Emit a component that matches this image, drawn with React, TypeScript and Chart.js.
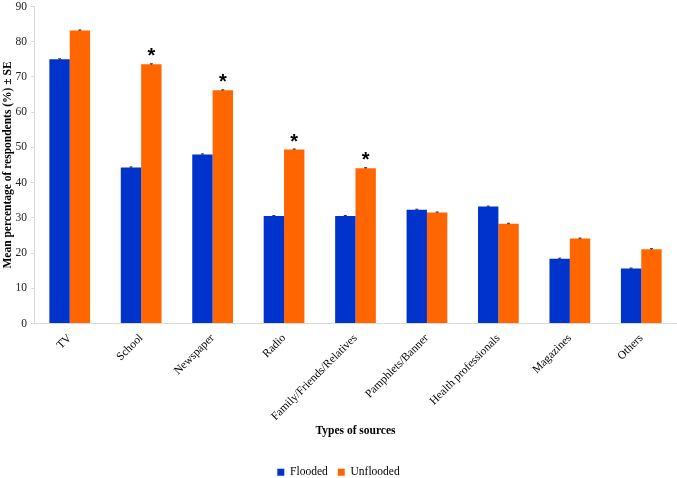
import React, { useEffect, useRef } from "react";
import { Chart, registerables } from "chart.js";

Chart.register(...registerables);

const categories = [
  "TV",
  "School",
  "Newspaper",
  "Radio",
  "Family/Friends/Relatives",
  "Pamphlets/Banner",
  "Health professionals",
  "Magazines",
  "Others",
];
const flooded = [75.0, 44.3, 48.0, 30.5, 30.5, 32.3, 33.2, 18.4, 15.6];
const unflooded = [83.2, 73.6, 66.2, 49.4, 44.1, 31.5, 28.3, 24.1, 21.1];
const floodedSE = [0.15, 0.15, 0.15, 0.15, 0.15, 0.15, 0.15, 0.15, 0.15];
const unfloodedSE = [0.15, 0.15, 0.15, 0.15, 0.15, 0.15, 0.15, 0.15, 0.15];
const significant = [false, true, true, true, true, false, false, false, false];
const yTicks = [0, 10, 20, 30, 40, 50, 60, 70, 80, 90];

const SERIF = "'Liberation Serif', 'Times New Roman', serif";

const errorAndStarPlugin = {
  id: "errorAndStar",
  afterDatasetsDraw(chart: any) {
    const ctx = chart.ctx;
    const y = chart.scales.y;
    const seSets = [floodedSE, unfloodedSE];
    ctx.save();
    chart.data.datasets.forEach((ds: any, di: number) => {
      const meta = chart.getDatasetMeta(di);
      meta.data.forEach((bar: any, i: number) => {
        const v = ds.data[i];
        const se = seSets[di][i];
        const yTop = y.getPixelForValue(v + se);
        const yBot = y.getPixelForValue(v - se);
        ctx.strokeStyle = "#333";
        ctx.lineWidth = 1;
        ctx.beginPath();
        ctx.moveTo(bar.x, yTop);
        ctx.lineTo(bar.x, yBot);
        ctx.moveTo(bar.x - 1.5, yTop);
        ctx.lineTo(bar.x + 1.5, yTop);
        ctx.stroke();
        if (di === 1 && significant[i]) {
          ctx.fillStyle = "#000";
          ctx.font = "bold 20px 'Liberation Sans', Arial, sans-serif";
          ctx.textAlign = "center";
          ctx.textBaseline = "alphabetic";
          ctx.fillText("*", bar.x, y.getPixelForValue(v) - 2);
        }
      });
    });
    ctx.restore();
  },
};

export default function App() {
  const ref = useRef<HTMLCanvasElement | null>(null);
  useEffect(() => {
    if (!ref.current) return;
    const chart = new Chart(ref.current, {
      type: "bar",
      data: {
        labels: categories,
        datasets: [
          {
            label: "Flooded",
            data: flooded,
            backgroundColor: "#0033cc",
            categoryPercentage: 0.57,
            barPercentage: 1.0,
          },
          {
            label: "Unflooded",
            data: unflooded,
            backgroundColor: "#ff6600",
            categoryPercentage: 0.57,
            barPercentage: 1.0,
          },
        ],
      },
      options: {
        animation: false,
        responsive: true,
        maintainAspectRatio: false,
        layout: { padding: { left: 0, right: 0, top: 0, bottom: 0 } },
        plugins: {
          tooltip: { enabled: false },
          legend: {
            position: "bottom",
            labels: {
              boxWidth: 7,
              boxHeight: 7,
              padding: 10,
              color: "#000",
              font: { family: SERIF, size: 11.5 },
            },
          },
        },
        scales: {
          x: {
            grid: { display: false },
            border: { display: true, color: "#d9d9d9" },
            afterFit: (scale: any) => {
              scale.height = 133;
            },
            ticks: {
              maxRotation: 45,
              minRotation: 45,
              color: "#000",
              padding: 0,
              font: { family: SERIF, size: 11.5 },
            },
            title: {
              display: true,
              text: "Types of sources",
              color: "#000",
              padding: { top: 0, bottom: 19 },
              font: { family: SERIF, size: 11.5, weight: "bold" },
            },
          },
          y: {
            min: 0,
            max: 90,
            afterBuildTicks: (scale: any) => {
              scale.ticks = yTicks.map((v) => ({ value: v }));
            },
            afterFit: (scale: any) => {
              scale.width = 34;
              scale.paddingTop = 6.5;
            },
            grid: {
              drawOnChartArea: false,
              drawTicks: true,
              tickLength: 3,
              color: "#d9d9d9",
            },
            border: { display: true, color: "#d9d9d9" },
            ticks: {
              color: "#222",
              padding: 4,
              font: { family: SERIF, size: 11.5, lineHeight: 1 },
            },
            title: {
              display: true,
              text: "Mean percentage of respondents (%) ± SE",
              color: "#000",
              padding: { top: 1, bottom: 0 },
              font: { family: SERIF, size: 11.5, weight: "bold" },
            },
          },
        },
      },
      plugins: [errorAndStarPlugin],
    });
    return () => chart.destroy();
  }, []);
  return (
    <div
      style={{
        position: "fixed",
        left: 0,
        top: 0,
        width: 677,
        height: 478,
        overflow: "hidden",
        background: "#fff",
      }}
    >
      <div style={{ position: "relative", width: 677, height: 488 }}>
        <canvas ref={ref} />
      </div>
    </div>
  );
}
